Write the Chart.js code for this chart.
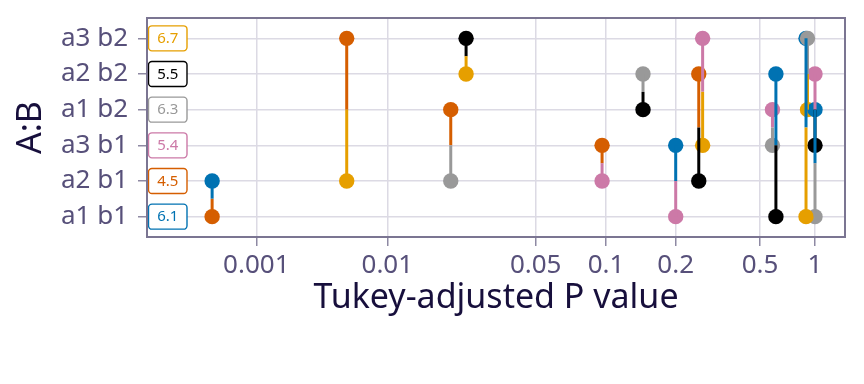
<!DOCTYPE html>
<html>
<head>
<meta charset="utf-8">
<script src="https://cdn.jsdelivr.net/npm/chart.js@4/dist/chart.umd.min.js"></script>
<style>
html,body{margin:0;padding:0;background:#ffffff;}
#wrap{width:864px;height:384px;}
</style>
</head>
<body>
<div id="wrap"><canvas id="c" width="864" height="384"></canvas></div>
<script>
// ---- data ----
const levels = ['a1 b1', 'a2 b1', 'a3 b1', 'a1 b2', 'a2 b2', 'a3 b2'];
const levelColors = ['#0072B2', '#D55E00', '#CC79A7', '#999999', '#000000', '#E69F00'];
const means = ['6.1', '4.5', '5.4', '6.3', '5.5', '6.7'];
// pairwise comparisons (index into levels) and Tukey-adjusted P values
const pairFrom = [0, 0, 0, 0, 0, 1, 1, 1, 1, 2, 2, 2, 3, 3, 4];
const pairTo   = [1, 2, 3, 4, 5, 2, 3, 4, 5, 3, 4, 5, 4, 5, 5];
const pValues  = [0.00046, 0.200, 1.000, 0.611, 0.893, 0.0962, 0.0199, 0.257, 0.0049, 0.585, 1.000, 0.268, 0.1445, 0.910, 0.0235];
// x-axis ticks
const tickP = [0.001, 0.01, 0.05, 0.1, 0.2, 0.5, 1];
const tickLabels = ['0.001', '0.01', '0.05', '0.1', '0.2', '0.5', '1'];
// P-value scale transformation (position of each tick on the transformed axis)
const tickPos = [0, 1.31, 2.794, 3.497, 4.194, 5.037, 5.587];

function pTran(p) {
  const l = Math.log10(p);
  const L = tickP.map(Math.log10);
  let k = 0;
  if (l <= L[1]) k = 0;
  else if (l >= L[L.length - 2]) k = L.length - 2;
  else { while (!(l >= L[k] && l <= L[k + 1])) k++; }
  const s = (tickPos[k + 1] - tickPos[k]) / (L[k + 1] - L[k]);
  return tickPos[k] + (l - L[k]) * s;
}

// ---- build datasets ----
const datasets = [];
pairFrom.forEach((i, k) => {
  const j = pairTo[k];
  const t = pTran(pValues[k]);
  const mid = (i + j) / 2;
  datasets.push({ type: 'line', data: [{x: t, y: i}, {x: t, y: mid}], borderColor: levelColors[j], borderWidth: 3, pointRadius: 0, borderCapStyle: 'butt', order: 0 });
  datasets.push({ type: 'line', data: [{x: t, y: j}, {x: t, y: mid}], borderColor: levelColors[i], borderWidth: 3, pointRadius: 0, borderCapStyle: 'butt', order: 0 });
});
const ptData = [], ptColors = [];
pairFrom.forEach((i, k) => { ptData.push({x: pTran(pValues[k]), y: i}); ptColors.push(levelColors[pairTo[k]]); });
pairTo.forEach((j, k) => { ptData.push({x: pTran(pValues[k]), y: j}); ptColors.push(levelColors[pairFrom[k]]); });
datasets.push({ type: 'scatter', data: ptData, pointBackgroundColor: ptColors, pointBorderColor: ptColors, pointRadius: 7.7, pointBorderWidth: 0, showLine: false, order: 1 });

const FONT = "'Noto Sans', 'Open Sans', sans-serif";

const frameAndLabels = {
  id: 'frameAndLabels',
  afterDatasetsDraw(chart) {
    const {ctx, chartArea, scales} = chart;
    ctx.save();
    // mean labels
    ctx.font = '15px ' + FONT;
    ctx.textBaseline = 'middle';
    ctx.textAlign = 'center';
    levels.forEach((lv, i) => {
      const y = scales.y.getPixelForValue(i);
      const x0 = chartArea.left + 1.5, w = 38.5, h = 25, r = 3.5;
      ctx.beginPath();
      ctx.roundRect(x0, y - h / 2, w, h, r);
      ctx.fillStyle = '#ffffff';
      ctx.fill();
      ctx.lineWidth = 1.4;
      ctx.strokeStyle = levelColors[i];
      ctx.stroke();
      ctx.fillStyle = levelColors[i];
      ctx.fillText(means[i], x0 + w / 2, y + 0.5);
    });
    // panel border
    ctx.lineWidth = 2;
    ctx.strokeStyle = '#7b7592';
    ctx.strokeRect(chartArea.left, chartArea.top, chartArea.right - chartArea.left, chartArea.bottom - chartArea.top);
    ctx.restore();
  }
};

new Chart(document.getElementById('c'), {
  data: { datasets },
  options: {
    responsive: false,
    animation: false,
    devicePixelRatio: 1,
    layout: { padding: { left: 0, right: 19, top: 18, bottom: 65 } },
    plugins: { legend: { display: false }, tooltip: { enabled: false } },
    scales: {
      x: {
        type: 'linear',
        min: -1.093,
        max: 5.887,
        afterBuildTicks: (s) => { s.ticks = tickP.map(p => ({ value: pTran(p) })); },
        afterFit: (s) => { s.height = 82; s.paddingLeft = 0; s.paddingRight = 0; },
        ticks: {
          callback: (v, idx) => tickLabels[idx],
          font: { family: FONT, size: 26 },
          color: '#57507a',
          padding: 4,
          maxRotation: 0,
          autoSkip: false
        },
        grid: { color: '#dcdae4', lineWidth: 1.5, tickLength: 9, tickColor: '#8e89a3', tickWidth: 1.5 },
        border: { display: false },
        title: { display: true, text: 'Tukey-adjusted P value', font: { family: FONT, size: 34 }, color: '#170f3c', padding: 0 }
      },
      y: {
        type: 'linear',
        min: -0.57,
        max: 5.57,
        afterBuildTicks: (s) => { s.ticks = levels.map((_, i) => ({ value: i })); },
        afterFit: (s) => { s.width = 147; s.paddingTop = 0; s.paddingBottom = 0; },
        ticks: {
          callback: (v) => levels[Math.round(v)],
          font: { family: FONT, size: 26 },
          color: '#57507a',
          padding: 10,
          autoSkip: false
        },
        grid: { color: '#dcdae4', lineWidth: 1.5, tickLength: 9, tickColor: '#8e89a3', tickWidth: 1.5 },
        border: { display: false },
        title: { display: true, text: 'A:B', font: { family: FONT, size: 34 }, color: '#170f3c', padding: { top: 11, bottom: 0 } }
      }
    }
  },
  plugins: [frameAndLabels]
});
</script>
</body>
</html>
